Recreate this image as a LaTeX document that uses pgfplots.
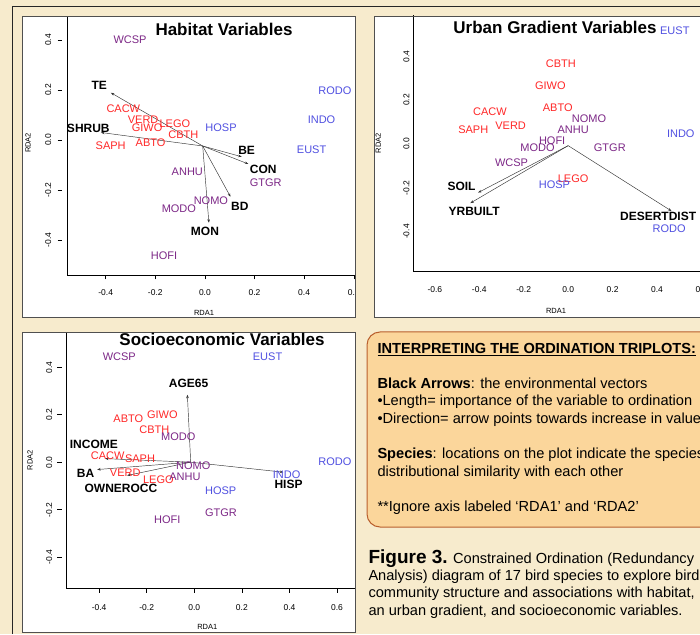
\documentclass[border=0pt]{standalone}
\usepackage{pgfplots}
\pgfplotsset{compat=1.18}
\usepackage{fontspec}
\setmainfont{Liberation Sans}
\usetikzlibrary{arrows.meta}
\definecolor{bg}{RGB}{247,235,205}
\definecolor{boxfill}{RGB}{251,214,155}
\definecolor{boxdraw}{RGB}{185,95,45}
\definecolor{spred}{RGB}{255,40,40}
\definecolor{spblue}{RGB}{80,80,225}
\definecolor{sppurple}{RGB}{125,40,135}
\definecolor{panelline}{RGB}{80,80,80}
\newcommand\spfont{\fontsize{11}{12}\selectfont}
\newcommand\envfont{\fontsize{12}{13}\selectfont\bfseries}
\newcommand\lblfont{\fontsize{7.5}{9}\selectfont}
\newcommand\bodyfont{\fontsize{14.6}{17}\selectfont}
\pgfplotsset{
  rda/.style={
    scale only axis, anchor=south west, clip=false,
    axis x line=bottom, axis y line=left,
    axis line style={-, black, line width=0.6pt},
    tick align=outside, major tick length=4.4pt,
    tick style={black, line width=0.5pt},
    /pgf/number format/fixed, /pgf/number format/fixed zerofill,
    /pgf/number format/precision=1, /pgf/number format/assume math mode=true,
    tick label style={font=\fontsize{8.5}{10}\selectfont, black},
  },
  sp/.style={only marks, mark=*, mark size=0pt, mark options={draw=none, fill=none},
    color=#1, nodes near coords, point meta=explicit symbolic,
    every node near coord/.append style={anchor=center, inner sep=0pt, font=\spfont, text=#1}},
  env/.style={only marks, mark=*, mark size=0pt, mark options={draw=none, fill=none},
    color=black, nodes near coords, point meta=explicit symbolic,
    every node near coord/.append style={anchor=center, inner sep=0pt, font=\envfont, text=black}},
  arr/.style={draw=black!80, line width=0.45pt, -{Stealth[length=3.5pt,width=2.6pt]}, mark=none},
}
\begin{document}
\begin{tikzpicture}[x=1pt,y=1pt]
\useasboundingbox (0,0) rectangle (700,634);
\clip (0,0) rectangle (700,634);
\fill[bg] (0,0) rectangle (700,634);
\draw[black!85, line width=0.7pt] (12,0) -- (12,628) -- (705,628);
% panel backgrounds
\fill[white] (22,317) rectangle (355,618);
\fill[white] (374,317) rectangle (710,618);
\fill[white] (22,2) rectangle (355,302);

% ---------------- Panel 1: Habitat
\begin{scope}
\clip (22,317) rectangle (355,618);
\begin{axis}[rda, at={(67pt,359pt)}, width=288pt, height=259pt,
  xmin=-0.556, xmax=0.605, ymin=-0.54, ymax=0.496,
  xtick={-0.4,-0.2,0,0.2,0.4,0.6}, ytick={-0.4,-0.2,0,0.2,0.4},
  ytick style={xshift=-5pt},
  xticklabel style={anchor=north, inner sep=0pt, yshift=-10.2pt},
  yticklabel style={rotate=90, anchor=south, inner sep=0pt, yshift=11.2pt}]
\addplot[arr] coordinates {(-0.009,-0.024) (-0.379,0.189)};
\addplot[arr] coordinates {(-0.009,-0.024) (-0.419,0.030)};
\addplot[arr] coordinates {(-0.009,-0.024) (0.148,-0.067)};
\addplot[arr] coordinates {(-0.009,-0.024) (0.175,-0.096)};
\addplot[arr] coordinates {(-0.009,-0.024) (0.103,-0.227)};
\addplot[arr] coordinates {(-0.009,-0.024) (0.016,-0.331)};
\addplot[sp=spred] table[meta=lab] {
x y lab
-0.329 0.124 CACW
-0.249 0.080 VERD
-0.233 0.048 GIWO
-0.121 0.064 LEGO
-0.087 0.020 CBTH
-0.219 -0.009 ABTO
-0.380 -0.024 SAPH
};
\addplot[sp=spblue] table[meta=lab] {
x y lab
0.524 0.197 RODO
0.470 0.080 INDO
0.430 -0.040 EUST
0.065 0.049 HOSP
};
\addplot[sp=sppurple] table[meta=lab] {
x y lab
-0.302 0.400 WCSP
-0.071 -0.129 ANHU
0.245 -0.171 GTGR
0.024 -0.244 NOMO
-0.105 -0.273 MODO
-0.165 -0.464 HOFI
};
\addplot[env] table[meta=lab] {
x y lab
-0.426 0.220 TE
-0.470 0.047 SHRUB
0.168 -0.043 BE
0.235 -0.116 CON
0.141 -0.264 BD
0.000 -0.367 MON
};
\end{axis}
\end{scope}

% ---------------- Panel 2: Urban
\begin{scope}
\clip (374,317) rectangle (700,618);
\begin{axis}[rda, at={(413.3pt,362.3pt)}, width=292.6pt, height=256.9pt,
  xmin=-0.697, xmax=0.62, ymin=-0.583, ymax=0.589,
  xtick={-0.6,-0.4,-0.2,0,0.2,0.4,0.6}, ytick={-0.4,-0.2,0,0.2,0.4},
  major tick length=0pt,
  xticklabel style={anchor=north, inner sep=0pt, yshift=-14.5pt},
  yticklabel style={rotate=90, anchor=south, inner sep=0pt, yshift=3.6pt}]
\addplot[arr] coordinates {(0,-0.008) (-0.405,-0.222)};
\addplot[arr] coordinates {(0,-0.008) (-0.440,-0.270)};
\addplot[arr] coordinates {(0,-0.008) (0.465,-0.306)};
\addplot[sp=spred] table[meta=lab] {
x y lab
-0.033 0.365 CBTH
-0.080 0.264 GIWO
-0.047 0.163 ABTO
-0.352 0.146 CACW
-0.427 0.064 SAPH
-0.259 0.081 VERD
0.0225 -0.157 LEGO
};
\addplot[sp=spblue] table[meta=lab] {
x y lab
0.480 0.516 EUST
0.507 0.046 INDO
-0.0615 -0.187 HOSP
0.4545 -0.389 RODO
};
\addplot[sp=sppurple] table[meta=lab] {
x y lab
0.094 0.114 NOMO
0.0225 0.064 ANHU
-0.072 0.014 HOFI
-0.138 -0.018 MODO
0.1875 -0.018 GTGR
-0.255 -0.088 WCSP
};
\addplot[env] table[meta=lab] {
x y lab
-0.480 -0.192 SOIL
-0.423 -0.309 YRBUILT
0.405 -0.329 DESERTDIST
};
\end{axis}
\end{scope}

% ---------------- Panel 3: Socioeconomic
\begin{scope}
\clip (22,2) rectangle (355,302);
\begin{axis}[rda, at={(66pt,45.7pt)}, width=288.9pt, height=256.5pt,
  xmin=-0.539, xmax=0.675, ymin=-0.531, ymax=0.549,
  xtick={-0.4,-0.2,0,0.2,0.4,0.6}, ytick={-0.4,-0.2,0,0.2,0.4},
  ytick style={xshift=-4.5pt},
  xticklabel style={anchor=north, inner sep=0pt, yshift=-11.5pt},
  yticklabel style={rotate=90, anchor=south, inner sep=0pt, yshift=9.3pt}]
\addplot[arr] coordinates {(-0.015,0) (-0.029,0.284)};
\addplot[arr] coordinates {(-0.015,0) (-0.375,0.015)};
\addplot[arr] coordinates {(-0.015,0) (-0.408,-0.031)};
\addplot[arr] coordinates {(-0.015,0) (-0.282,-0.056)};
\addplot[arr] coordinates {(-0.015,0) (0.374,-0.042)};
\addplot[sp=spred] table[meta=lab] {
x y lab
-0.277 0.182 ABTO
-0.134 0.199 GIWO
-0.168 0.136 CBTH
-0.364 0.029 CACW
-0.228 0.014 SAPH
-0.290 -0.046 VERD
-0.151 -0.074 LEGO
};
\addplot[sp=spblue] table[meta=lab] {
x y lab
0.308 0.445 EUST
0.591 0.000 RODO
0.388 -0.053 INDO
0.111 -0.121 HOSP
};
\addplot[sp=sppurple] table[meta=lab] {
x y lab
-0.315 0.445 WCSP
-0.067 0.108 MODO
-0.004 -0.015 NOMO
-0.039 -0.060 ANHU
0.112 -0.212 GTGR
-0.113 -0.243 HOFI
};
\addplot[env] table[meta=lab] {
x y lab
-0.024 0.330 AGE65
-0.422 0.073 INCOME
-0.457 -0.049 BA
-0.308 -0.112 OWNEROCC
0.396 -0.093 HISP
};
\end{axis}
\end{scope}

% panel borders
\draw[panelline, line width=0.6pt] (22,317) rectangle (355,618);
\draw[panelline, line width=0.6pt] (374,317) rectangle (710,618);
\draw[panelline, line width=0.6pt] (22,2) rectangle (355,302);

% titles and axis labels
\node[font=\fontsize{17}{19}\selectfont\bfseries] at (224,605) {Habitat Variables};
\node[font=\fontsize{17}{19}\selectfont\bfseries] at (555,607) {Urban Gradient Variables};
\node[font=\fontsize{17}{19}\selectfont\bfseries] at (222,295) {Socioeconomic Variables};
\node[font=\lblfont] at (204,321) {RDA1};
\node[font=\lblfont, rotate=90] at (28,491) {RDA2};
\node[font=\lblfont] at (556,323.3) {RDA1};
\node[font=\lblfont, rotate=90] at (378.3,490.7) {RDA2};
\node[font=\lblfont] at (207.3,7.3) {RDA1};
\node[font=\lblfont, rotate=90] at (30,174) {RDA2};

% interpretation box
\draw[boxdraw, fill=boxfill, line width=1pt, rounded corners=13pt] (367,107) rectangle (730,302);
\begin{scope}[every node/.style={anchor=base west, inner sep=0pt, font=\bodyfont}]
\node at (377.3,280.7) {\bfseries\underline{INTERPRETING THE ORDINATION TRIPLOTS:}};
\node at (377.3,245.7) {\textbf{Black Arrows}: the environmental vectors};
\node at (377.3,228) {•Length= importance of the variable to ordination};
\node at (377.3,210.7) {•Direction= arrow points towards increase in value};
\node at (377.3,175.7) {\textbf{Species}: locations on the plot indicate the species};
\node at (377.3,157.3) {distributional similarity with each other};
\node at (377.3,122.3) {**Ignore axis labeled ‘RDA1’ and ‘RDA2’};
\node at (368.3,71) {{\fontsize{19}{21}\selectfont\bfseries Figure 3.} Constrained Ordination (Redundancy};
\node at (368.3,54) {Analysis) diagram of 17 bird species to explore bird};
\node at (368.3,36.3) {community structure and associations with habitat,};
\node at (368.3,18.5) {an urban gradient, and socioeconomic variables.};
\end{scope}
\end{tikzpicture}
\end{document}
